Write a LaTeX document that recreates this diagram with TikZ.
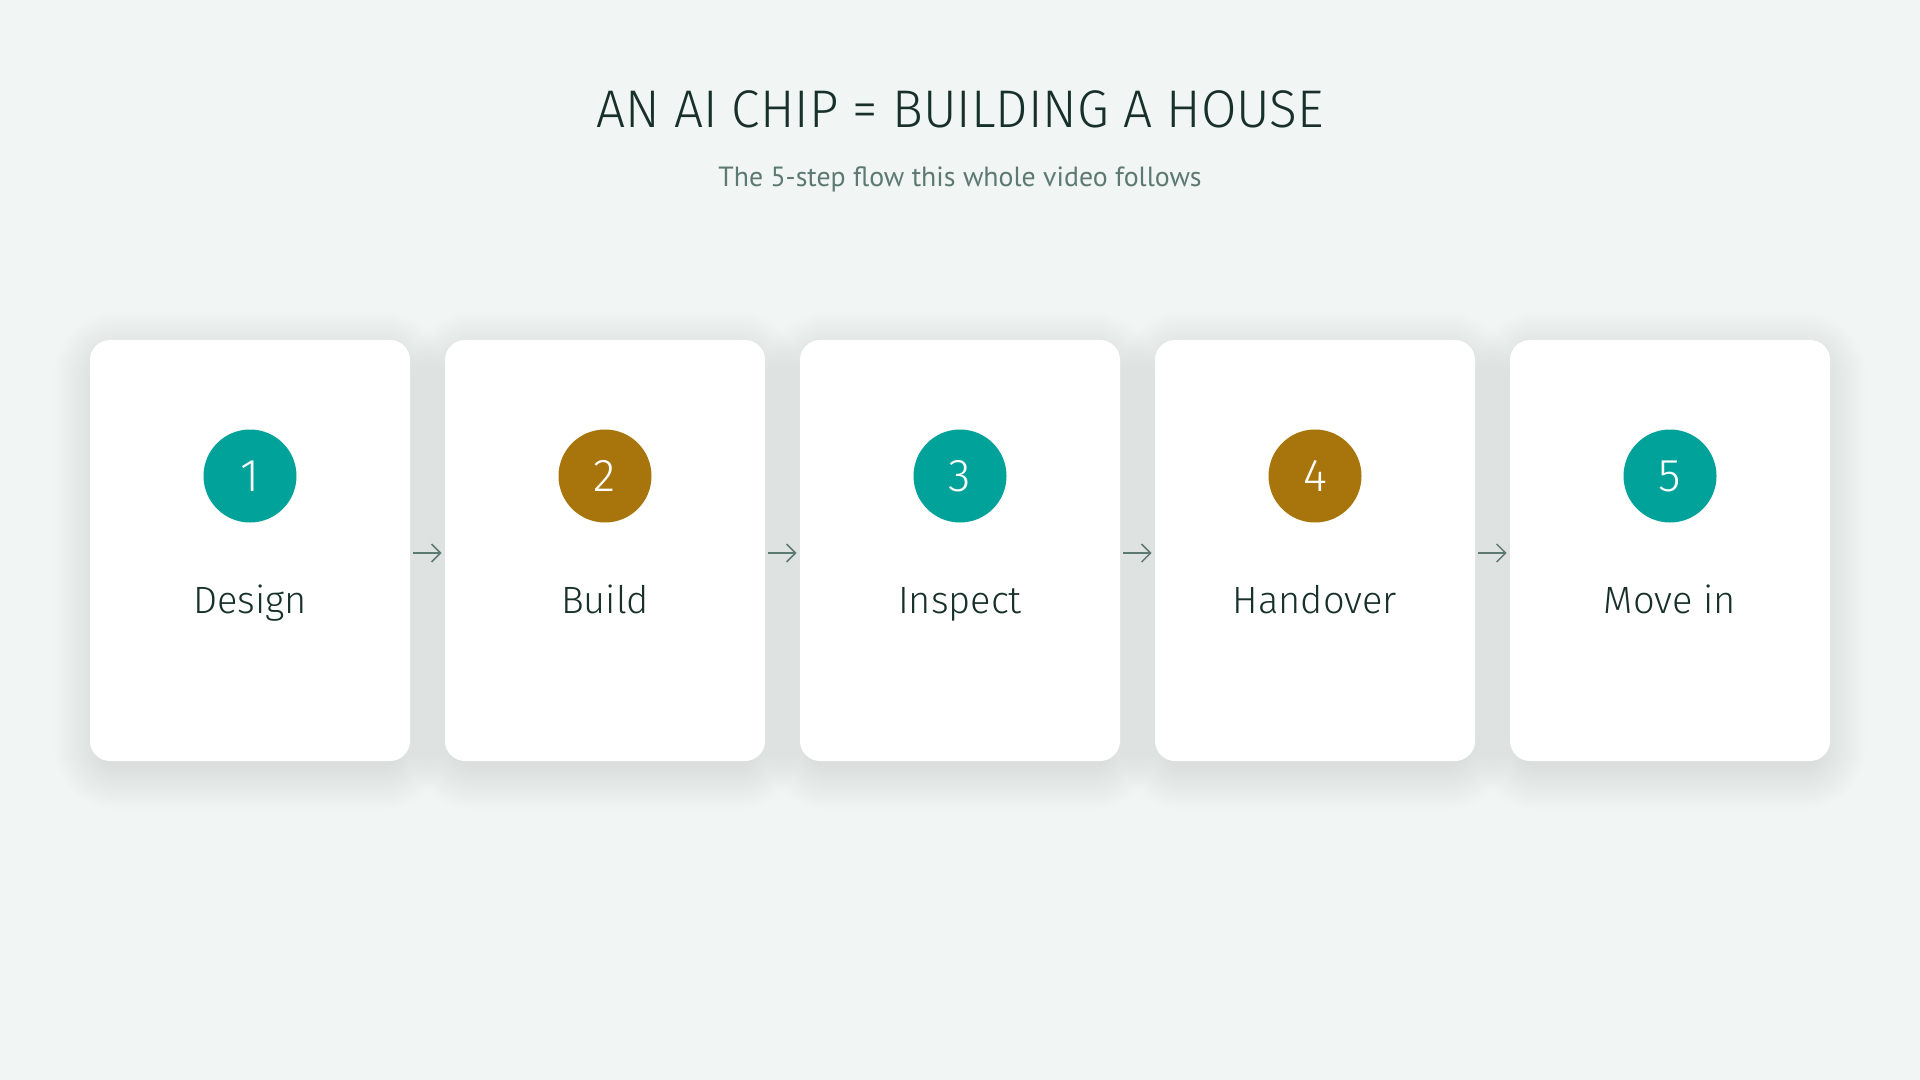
\documentclass[tikz,border=0pt]{standalone}
\usepackage{fontspec}
\setmainfont{Fira Sans Light}
\newfontfamily\subfont{PT Sans}
\newfontfamily\titlefont[FakeStretch=0.97]{Fira Sans Light}
\usetikzlibrary{arrows.meta}
\definecolor{bgc}{HTML}{F1F5F4}
\definecolor{ink}{HTML}{17302A}
\definecolor{subc}{HTML}{5D7A72}
\definecolor{tealc}{HTML}{00A29A}
\definecolor{goldc}{HTML}{A8740C}
\tikzset{
  card/.style={fill=white, rounded corners=10pt, minimum width=160pt, minimum height=210.5pt, inner sep=0pt},
  shade layer/.style={fill=black, fill opacity=0.0055},
  badge/.style={circle, minimum size=46.5pt, inner sep=0pt, text=white, font=\fontsize{23}{23}\selectfont},
  lbl/.style={anchor=base, text=ink, font=\fontsize{19}{20}\selectfont},
  flow/.style={draw=subc, line width=0.75pt, -{Straight Barb[length=4.5pt,width=9pt,line width=0.75pt]}}
}
\begin{document}
\begin{tikzpicture}[x=0.5pt,y=-0.5pt]
\fill[bgc] (0,0) rectangle (1920,1080);
\useasboundingbox (0,0) rectangle (1920,1080);
\node[anchor=base, text=ink, font=\titlefont\fontsize{26.5}{27}\selectfont] (title) at (960,128) {AN AI CHIP = BUILDING A HOUSE};
\node[anchor=base, text=subc, font=\subfont\fontsize{13.9}{14}\selectfont] (sub) at (960,187) {The 5-step flow this whole video follows};
% soft shadows
\foreach \x in {250,605,960,1315,1670}{
  \foreach \k in {0,2,...,44}{
    \pgfmathsetmacro{\rc}{10+\k/2}
    \fill[shade layer, rounded corners=\rc pt] (\x-152-\k,356-\k) rectangle (\x+152+\k,766+\k);
  }
}
\foreach \i/\x/\c/\t in {1/250/tealc/Design, 2/605/goldc/Build, 3/960/tealc/Inspect, 4/1315/goldc/Handover, 5/1670/tealc/Move in}{
  \node[card] (card\i) at (\x,550.5) {};
  \node[badge, fill=\c] (num\i) at (\x,476) {\i};
  \node[lbl] (lab\i) at (\x,613) {\t};
}
\foreach \a/\b in {1/2,2/3,3/4,4/5}{
  \draw[flow] ([xshift=1.5pt,yshift=-1.25pt]card\a.east) -- ([xshift=-1.5pt,yshift=-1.25pt]card\b.west);
}
\end{tikzpicture}
\end{document}
